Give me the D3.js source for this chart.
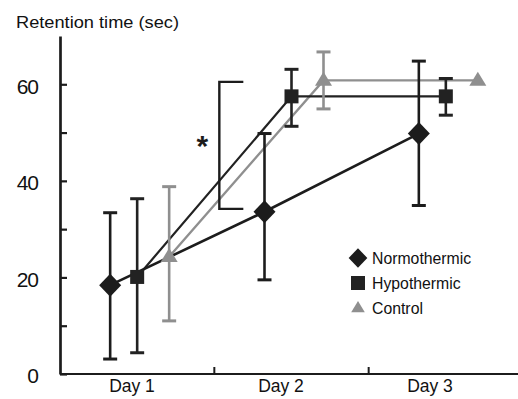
<!DOCTYPE html>
<html>
<head>
<meta charset="utf-8">
<script src="https://cdn.jsdelivr.net/npm/d3@7"></script>
<style>
  html, body { margin: 0; padding: 0; background: #fff; }
  svg { display: block; font-family: "Liberation Sans", Arial, sans-serif; }
</style>
</head>
<body>
<svg id="chart" width="518" height="399"></svg>
<script>
// ---- data ----
const days = ["Day 1", "Day 2", "Day 3"];
const normoMean = [18.4, 33.6, 49.8];
const normoLow  = [3.1, 19.5, 34.9];
const normoHigh = [33.4, 49.8, 64.8];
const hypoMean  = [20.1, 57.5, 57.5];
const hypoLow   = [4.4, 51.3, 53.6];
const hypoHigh  = [36.3, 63.1, 61.2];
const ctrlMean  = [24.3, 60.8, 60.8];
const ctrlLow   = [11.0, 54.9, null];
const ctrlHigh  = [38.8, 66.7, null];
const seriesNames = ["Normothermic", "Hypothermic", "Control"];
const yTicks = [0, 10, 20, 30, 40, 50, 60];
const yLabelTicks = [0, 20, 40, 60];
const bracketRange = [34.2, 60.5];
const yTitle = "Retention time (sec)";

// ---- layout ----
const svg = d3.select("#chart");
const dark = "#1c1c1c", grey = "#8f8f8f";
const x = d3.scaleBand().domain(days).range([60, 523]).padding(0);
const xLabel = d3.scalePoint().domain(days).range([131.5, 429.5]);
const y = d3.scaleLinear().domain([0, 70]).range([374, 36]);

const series = [
  {name: seriesNames[0], mean: normoMean, low: normoLow, high: normoHigh, color: dark, dx: -27, shape: "diamond", lw: 2.6},
  {name: seriesNames[1], mean: hypoMean, low: hypoLow, high: hypoHigh, color: "#222", dx: 0, shape: "square", lw: 2.2},
  {name: seriesNames[2], mean: ctrlMean, low: ctrlLow, high: ctrlHigh, color: grey, dx: 32, shape: "triangle", lw: 2.4}
];
const cx = (i, s) => x(days[i]) + x.bandwidth() / 2 + s.dx;

// title
svg.append("text").attr("x", 16).attr("y", 28)
  .attr("font-size", 16.5).attr("fill", "#111")
  .attr("textLength", 163).attr("lengthAdjust", "spacingAndGlyphs")
  .text(yTitle);

// y axis
const yAxis = svg.append("g").attr("transform", "translate(60,0)")
  .call(d3.axisLeft(y).tickValues(yTicks).tickSize(-7).tickSizeOuter(0).tickPadding(22)
    .tickFormat(d => yLabelTicks.includes(d) ? d : ""));
yAxis.select(".domain").attr("stroke", dark).attr("stroke-width", 2.7);
yAxis.selectAll(".tick line").attr("stroke", dark).attr("stroke-width", 2.2);
yAxis.selectAll(".tick text").attr("font-size", 21).attr("fill", "#111")
  .attr("font-family", "'Liberation Sans', Arial, sans-serif")
  .attr("letter-spacing", "-1px").attr("dy", "0.42em");

// x axis line and boundary ticks
svg.append("line").attr("x1", 60).attr("x2", 523).attr("y1", y(0)).attr("y2", y(0))
  .attr("stroke", dark).attr("stroke-width", 2.2);
svg.selectAll(".xb").data(days.slice(1)).join("line")
  .attr("x1", d => x(d)).attr("x2", d => x(d))
  .attr("y1", y(0)).attr("y2", y(0) - 7)
  .attr("stroke", dark).attr("stroke-width", 2);
const xAxis = svg.append("g").attr("transform", `translate(0,${y(0)})`)
  .call(d3.axisBottom(xLabel).tickSize(0).tickPadding(6));
xAxis.select(".domain").remove();
xAxis.selectAll("text").attr("font-size", 17.5).attr("fill", "#111")
  .attr("font-family", "'Liberation Sans', Arial, sans-serif");

// lines
const line = d3.line().x(d => d[0]).y(d => d[1]);
[series[2], series[1], series[0]].forEach(s => {
  const pts = s.mean.map((v, i) => [cx(i, s), y(v)]);
  svg.append("path").attr("d", line(pts)).attr("fill", "none")
    .attr("stroke", s.color).attr("stroke-width", s.lw);
});

// error bars
series.forEach(s => {
  s.mean.forEach((v, i) => {
    if (s.low[i] == null) return;
    const px = cx(i, s);
    const g = svg.append("g").attr("stroke", s.color);
    g.append("line").attr("x1", px).attr("x2", px).attr("y1", y(s.low[i])).attr("y2", y(s.high[i]))
      .attr("stroke-width", 2.6);
    [s.low[i], s.high[i]].forEach(e => {
      g.append("line").attr("x1", px - 7).attr("x2", px + 7).attr("y1", y(e)).attr("y2", y(e))
        .attr("stroke-width", 3);
    });
  });
});

// markers
function marker(g, shape, px, py, color, scale) {
  scale = scale || 1;
  if (shape === "diamond") {
    const w = 11 * scale, h = 11.5 * scale;
    g.append("path").attr("d", `M${px},${py - h}L${px + w},${py}L${px},${py + h}L${px - w},${py}Z`)
      .attr("fill", color);
  } else if (shape === "square") {
    const a = 7 * scale;
    g.append("rect").attr("x", px - a).attr("y", py - a).attr("width", 2 * a).attr("height", 2 * a)
      .attr("fill", color);
  } else {
    const w = 8.5 * scale, h = 14 * scale;
    g.append("path").attr("d", `M${px},${py - h * 0.62}L${px + w},${py + h * 0.38}L${px - w},${py + h * 0.38}Z`)
      .attr("fill", color);
  }
}
series.forEach(s => {
  s.mean.forEach((v, i) => marker(svg, s.shape, cx(i, s), y(v), s.color));
});

// significance bracket
const bx = x(days[1]) + 5;
svg.append("path")
  .attr("d", `M${bx + 24},${y(bracketRange[1])}H${bx}V${y(bracketRange[0])}H${bx + 24}`)
  .attr("fill", "none").attr("stroke", dark).attr("stroke-width", 2.4);
svg.append("text").attr("x", bx - 17).attr("y", (y(bracketRange[0]) + y(bracketRange[1])) / 2 + 11)
  .attr("text-anchor", "middle").attr("font-size", 30).attr("font-weight", "bold").attr("fill", dark)
  .text("*");

// legend
const legend = svg.append("g");
const legendShapes = [
  {shape: "diamond", color: dark, scale: 0.85},
  {shape: "square", color: "#222", scale: 1},
  {shape: "triangle", color: grey, scale: 0.8}
];
seriesNames.forEach((n, i) => {
  const ly = 258 + i * 25;
  marker(legend, legendShapes[i].shape, 358, ly, legendShapes[i].color, legendShapes[i].scale);
  legend.append("text").attr("x", 372).attr("y", ly + 5.5)
    .attr("font-size", 15.8).attr("fill", "#111").text(n);
});
</script>
</body>
</html>
